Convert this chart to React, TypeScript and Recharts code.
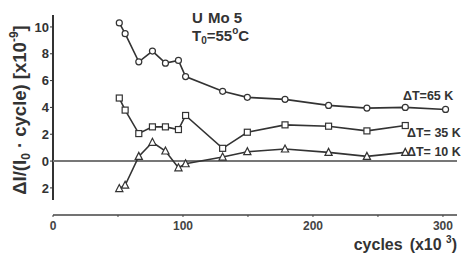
import React from "react";
import { LineChart, Line, XAxis, YAxis, ReferenceLine } from "recharts";

// cycles (x10^3)
const cycles = [51, 55.5, 66, 76.5, 86.5, 96.5, 102, 130.5, 149.5, 178.5, 212, 241.5, 271, 302];
const dT65 = [10.3, 9.5, 7.4, 8.2, 7.3, 7.5, 6.3, 5.2, 4.75, 4.6, 4.15, 3.95, 4.0, 3.85];
const dT35 = [4.7, 3.8, 2.05, 2.55, 2.55, 2.35, 3.4, 0.95, 2.15, 2.7, 2.6, 2.25, 2.65, null];
const dT10 = [-2.05, -1.8, 0.35, 1.4, 0.75, -0.5, -0.2, 0.3, 0.7, 0.9, 0.65, 0.35, 0.65, null];

const xTicks = [0, 50, 100, 150, 200, 250, 300];
const xLabels = [0, 100, 200, 300];
const yTicks = [-2, 0, 2, 4, 6, 8, 10];

const data = cycles.map((x, i) => ({ x, dT65: dT65[i], dT35: dT35[i], dT10: dT10[i] }));

const INK = "#333";
const FONT = "'Liberation Sans', Arial, sans-serif";

const Circle = (p: any) =>
  p.cy == null ? null : <circle cx={p.cx} cy={p.cy} r={3} fill="#fff" stroke={INK} strokeWidth={1.2} />;
const Square = (p: any) =>
  p.cy == null ? null : (
    <rect x={p.cx - 3} y={p.cy - 3} width={6} height={6} fill="#fff" stroke={INK} strokeWidth={1.2} />
  );
const Triangle = (p: any) =>
  p.cy == null ? null : (
    <polygon
      points={`${p.cx},${p.cy - 4} ${p.cx - 3.6},${p.cy + 3} ${p.cx + 3.6},${p.cy + 3}`}
      fill="#fff"
      stroke={INK}
      strokeWidth={1.2}
    />
  );

export default function App() {
  return (
    <div style={{ position: "absolute", left: 0, top: 0, width: 465, height: 256, background: "#fff" }}>
      <LineChart
        width={465}
        height={256}
        data={data}
        margin={{ top: 15, right: 8, left: 33, bottom: 16 }}
      >
        <XAxis
          type="number"
          dataKey="x"
          domain={[0, 310.8]}
          ticks={xTicks}
          tickFormatter={(v: number) => (xLabels.includes(v) ? String(v) : "")}
          height={25}
          tickSize={2}
          tickMargin={4}
          axisLine={{ stroke: "#444", strokeWidth: 1.6 }}
          tickLine={{ stroke: "#444" }}
          tick={{ fill: "#444", fontSize: 12, fontWeight: 700, fontFamily: FONT }}
          allowDataOverflow
        />
        <YAxis
          type="number"
          domain={[-4.02, 10.89]}
          ticks={yTicks}
          tickFormatter={(v: number) => String(Math.abs(v))}
          width={20}
          tickSize={3}
          tickMargin={1}
          axisLine={false}
          tickLine={{ stroke: INK }}
          tick={{ fill: INK, fontSize: 13, fontWeight: 700, fontFamily: FONT }}
          allowDataOverflow
        />
        <ReferenceLine
          segment={[
            { x: 0, y: -2.9 },
            { x: 0, y: 10.89 },
          ]}
          stroke={INK}
          strokeWidth={2}
          ifOverflow="visible"
        />
        <ReferenceLine y={0} stroke="#777" strokeWidth={2} />
        <Line dataKey="dT65" stroke={INK} strokeWidth={1.6} dot={Circle} isAnimationActive={false} />
        <Line dataKey="dT35" stroke={INK} strokeWidth={1.6} dot={Square} isAnimationActive={false} />
        <Line dataKey="dT10" stroke={INK} strokeWidth={1.6} dot={Triangle} isAnimationActive={false} />
      </LineChart>
      <svg
        width={465}
        height={256}
        style={{ position: "absolute", left: 0, top: 0, pointerEvents: "none" }}
        fontFamily={FONT}
        fontWeight={700}
        fill={INK}
      >
        <text x={192} y={23} fontSize={15}>U</text>
        <text x={208} y={23} fontSize={15}>Mo 5</text>
        <text x={192} y={41} fontSize={15}>
          T<tspan fontSize={10} dy={3}>0</tspan>
          <tspan dy={-3}>=55</tspan>
          <tspan fontSize={10} dy={-7}>o</tspan>
          <tspan dy={7}>C</tspan>
        </text>
        <text x={403} y={100} fontSize={12.5}>ΔT=65 K</text>
        <text x={407} y={137} fontSize={12.5}>ΔT= 35 K</text>
        <text x={407} y={156} fontSize={12.5}>ΔT= 10 K</text>
        <text x={457} y={250} fontSize={16} textAnchor="end">
          cycles<tspan dx={7}>(x10 </tspan>
          <tspan fontSize={10} dy={-7}>3</tspan>
          <tspan dy={7}>)</tspan>
        </text>
        <text x={26} y={110} fontSize={18.5} textAnchor="middle" transform="rotate(-90, 26, 110)">
          ΔI/(I<tspan fontSize={12} dy={4}>0</tspan>
          <tspan dy={-4}> · cycle) [x10</tspan>
          <tspan fontSize={12} dy={-8}>-9</tspan>
          <tspan dy={8}>]</tspan>
        </text>
      </svg>
    </div>
  );
}
